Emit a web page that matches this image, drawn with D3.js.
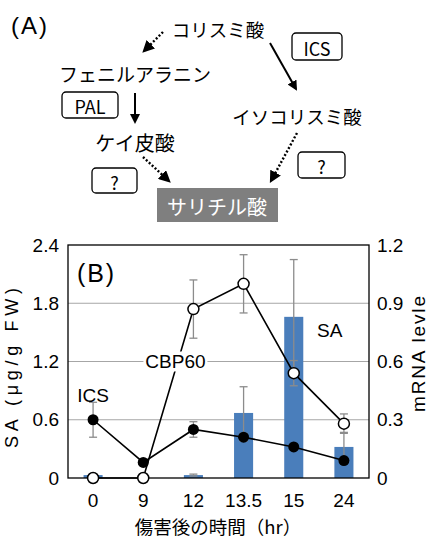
<!DOCTYPE html>
<html>
<head>
<meta charset="utf-8">
<script src="https://cdn.jsdelivr.net/npm/d3@7"></script>
<style>
  body { margin: 0; background: #fff; }
  svg { display: block; }
</style>
</head>
<body>
<div id="chart"></div>
<script>
// データ
const hours = ["0", "9", "12", "13.5", "15", "24"];
const saValues = [0.03, 0, 0.03, 0.67, 1.66, 0.32];      // SA (μg/g FW)
const saErrors = [0.01, 0, 0.01, 0.27, 0.59, 0.15];
const icsValues = [0.30, 0.08, 0.25, 0.21, 0.16, 0.09];   // mRNA
const icsErrors = [0.09, 0, 0.04, 0.02, 0, 0];
const cbpValues = [0, 0, 0.87, 1.0, 0.54, 0.28];          // mRNA
const cbpErrors = [0, 0, 0.15, 0.15, 0.065, 0.05];
const leftTicks = [0, 0.6, 1.2, 1.8, 2.4];
const rightTicks = [0, 0.3, 0.6, 0.9, 1.2];

const W = 429, H = 539;
const jp = "'Noto Sans CJK JP', sans-serif";
const latin = "'Liberation Sans', Arial, sans-serif";

const svg = d3.select("#chart").append("svg")
    .attr("width", W)
    .attr("height", H);

svg.append("defs").append("marker")
    .attr("id", "arrow")
    .attr("viewBox", "0 0 10 10")
    .attr("refX", 8).attr("refY", 5)
    .attr("markerWidth", 5).attr("markerHeight", 5)
    .attr("orient", "auto")
    .append("path")
    .attr("d", "M0,0 L10,5 L0,10 Z")
    .attr("fill", "#000");

// --- (A) 経路図 ---
const diagram = svg.append("g").attr("class", "diagram");

diagram.append("text")
    .attr("x", 11).attr("y", 25)
    .attr("dominant-baseline", "central")
    .attr("font-family", latin)
    .attr("font-size", 24)
    .attr("textLength", 36)
    .attr("lengthAdjust", "spacing")
    .text("(A)");

const labels = [
    {t: "コリスミ酸", x: 218, y: 29, s: 18.5},
    {t: "フェニルアラニン", x: 135, y: 73, s: 19},
    {t: "イソコリスミ酸", x: 297, y: 116, s: 18.5},
    {t: "ケイ皮酸", x: 135, y: 142, s: 20}
];
diagram.selectAll("text.lbl")
    .data(labels)
    .join("text")
    .attr("class", "lbl")
    .attr("x", d => d.x).attr("y", d => d.y)
    .attr("text-anchor", "middle")
    .attr("dominant-baseline", "central")
    .attr("font-family", jp)
    .attr("font-size", d => d.s)
    .text(d => d.t);

const boxes = [
    {t: "ICS", x: 292, y: 33, w: 50, h: 27},
    {t: "PAL", x: 62, y: 92, w: 56, h: 26},
    {t: "?", x: 92, y: 168, w: 45, h: 25},
    {t: "?", x: 298, y: 152, w: 47, h: 26}
];
const boxG = diagram.selectAll("g.box")
    .data(boxes)
    .join("g")
    .attr("class", "box");
boxG.append("rect")
    .attr("x", d => d.x).attr("y", d => d.y)
    .attr("width", d => d.w).attr("height", d => d.h)
    .attr("rx", 4)
    .attr("fill", "#fff")
    .attr("stroke", "#000")
    .attr("stroke-width", 1.3);
boxG.append("text")
    .attr("x", d => d.x + d.w / 2)
    .attr("y", d => d.y + d.h / 2 + 1)
    .attr("text-anchor", "middle")
    .attr("dominant-baseline", "central")
    .attr("font-family", jp)
    .attr("font-size", 18)
    .text(d => d.t);

const arrows = [
    {x1: 163, y1: 32, x2: 144, y2: 51, dash: true},
    {x1: 270, y1: 43, x2: 296, y2: 89, dash: false},
    {x1: 135, y1: 93, x2: 135, y2: 122, dash: false},
    {x1: 143, y1: 157, x2: 169, y2: 181, dash: true},
    {x1: 297, y1: 133, x2: 271, y2: 181, dash: true}
];
diagram.selectAll("line.arrow")
    .data(arrows)
    .join("line")
    .attr("class", "arrow")
    .attr("x1", d => d.x1).attr("y1", d => d.y1)
    .attr("x2", d => d.x2).attr("y2", d => d.y2)
    .attr("stroke", "#000")
    .attr("stroke-width", d => d.dash ? 2.4 : 2)
    .attr("stroke-dasharray", d => d.dash ? "2,2" : null)
    .attr("marker-end", "url(#arrow)");

diagram.append("rect")
    .attr("x", 157).attr("y", 188)
    .attr("width", 121).attr("height", 34)
    .attr("fill", "#7f7f7f");
diagram.append("text")
    .attr("x", 217).attr("y", 206)
    .attr("text-anchor", "middle")
    .attr("dominant-baseline", "central")
    .attr("font-family", jp)
    .attr("font-size", 20)
    .attr("fill", "#fff")
    .text("サリチル酸");

// --- (B) グラフ ---
const margin = {top: 245, left: 68, right: 60, bottom: 61};
const width = W - margin.left - margin.right;
const height = H - margin.top - margin.bottom;
const g = svg.append("g")
    .attr("transform", "translate(" + margin.left + "," + margin.top + ")");

const x = d3.scaleBand().domain(hours).range([0, width]).paddingInner(0.62).paddingOuter(0.31);
const yL = d3.scaleLinear().domain([0, 2.4]).range([height, 0]);
const yR = d3.scaleLinear().domain([0, 1.2]).range([height, 0]);
const cx = d => x(d) + x.bandwidth() / 2;

// グリッド線
g.selectAll("line.grid")
    .data(leftTicks.slice(1, -1))
    .join("line")
    .attr("class", "grid")
    .attr("x1", 0).attr("x2", width)
    .attr("y1", d => yL(d)).attr("y2", d => yL(d))
    .attr("stroke", "#a6a6a6")
    .attr("stroke-width", 1);

// 棒グラフ (SA)
g.selectAll("rect.bar")
    .data(hours)
    .join("rect")
    .attr("class", "bar")
    .attr("x", d => x(d))
    .attr("width", x.bandwidth())
    .attr("y", (d, i) => yL(saValues[i]))
    .attr("height", (d, i) => height - yL(saValues[i]))
    .attr("fill", "#4a7ebb");

// 誤差範囲
function errorBars(cls, vals, errs, scale) {
    const eg = g.selectAll("g." + cls)
        .data(hours.map((h, i) => ({h, v: vals[i], e: errs[i]})).filter(d => d.e > 0.005))
        .join("g")
        .attr("class", cls)
        .attr("stroke", "#8c8c8c")
        .attr("stroke-width", 1.3);
    eg.append("line")
        .attr("x1", d => cx(d.h)).attr("x2", d => cx(d.h))
        .attr("y1", d => scale(d.v + d.e)).attr("y2", d => scale(Math.max(0, d.v - d.e)));
    eg.append("line")
        .attr("x1", d => cx(d.h) - 4).attr("x2", d => cx(d.h) + 4)
        .attr("y1", d => scale(d.v + d.e)).attr("y2", d => scale(d.v + d.e));
    eg.append("line")
        .attr("x1", d => cx(d.h) - 4).attr("x2", d => cx(d.h) + 4)
        .attr("y1", d => scale(Math.max(0, d.v - d.e))).attr("y2", d => scale(Math.max(0, d.v - d.e)));
}
errorBars("errSA", saValues, saErrors, yL);
errorBars("errICS", icsValues, icsErrors, yR);
errorBars("errCBP", cbpValues, cbpErrors, yR);

// 折れ線
const line = d3.line().x((d, i) => cx(hours[i])).y(d => yR(d));
[cbpValues, icsValues].forEach(vals => {
    g.append("path")
        .datum(vals)
        .attr("d", line)
        .attr("fill", "none")
        .attr("stroke", "#000")
        .attr("stroke-width", 1.6);
});

// 枠線
g.append("rect")
    .attr("x", 0).attr("y", 0)
    .attr("width", width).attr("height", height)
    .attr("fill", "none")
    .attr("stroke", "#000")
    .attr("stroke-width", 1.3);

// マーカー
g.selectAll("circle.ics")
    .data(icsValues)
    .join("circle")
    .attr("class", "ics")
    .attr("cx", (d, i) => cx(hours[i]))
    .attr("cy", d => yR(d))
    .attr("r", 5.5)
    .attr("fill", "#000");
g.selectAll("circle.cbp")
    .data(cbpValues)
    .join("circle")
    .attr("class", "cbp")
    .attr("cx", (d, i) => cx(hours[i]))
    .attr("cy", d => yR(d))
    .attr("r", 5.5)
    .attr("fill", "#fff")
    .attr("stroke", "#000")
    .attr("stroke-width", 1.5);

// 軸
const fmt = d => d === 0 ? "0" : d3.format(".1f")(d);
const axisL = g.append("g")
    .call(d3.axisLeft(yL).tickValues(leftTicks).tickSize(0).tickPadding(9).tickFormat(fmt));
const axisR = g.append("g")
    .attr("transform", "translate(" + width + ",0)")
    .call(d3.axisRight(yR).tickValues(rightTicks).tickSize(0).tickPadding(8).tickFormat(fmt));
const axisB = g.append("g")
    .attr("transform", "translate(0," + height + ")")
    .call(d3.axisBottom(x).tickSize(0).tickPadding(16));
[axisL, axisR, axisB].forEach(a => {
    a.select(".domain").remove();
    a.selectAll("text")
        .attr("font-family", latin)
        .attr("font-size", 19)
        .attr("fill", "#000");
});

// 系列ラベル
const seriesLabels = [
    {t: "ICS", h: "0", dx: 0, v: 0.85, bg: false},
    {t: "CBP60", h: "12", dx: -18, v: 1.2, bg: true},
    {t: "SA", h: "15", dx: 36, v: 1.52, bg: false}
];
seriesLabels.forEach(d => {
    const tx = cx(d.h) + d.dx;
    if (d.bg) {
        g.append("rect")
            .attr("x", tx - 32).attr("y", yL(d.v) - 10)
            .attr("width", 64).attr("height", 20)
            .attr("fill", "#fff");
    }
    g.append("text")
        .attr("x", tx).attr("y", yL(d.v))
        .attr("text-anchor", "middle")
        .attr("dominant-baseline", "central")
        .attr("font-family", latin)
        .attr("font-size", 19)
        .text(d.t);
});

g.append("text")
    .attr("x", 9).attr("y", 28)
    .attr("dominant-baseline", "central")
    .attr("font-family", latin)
    .attr("font-size", 25)
    .attr("textLength", 37)
    .attr("lengthAdjust", "spacing")
    .text("(B)");

// 軸タイトル
svg.append("text")
    .attr("transform", "translate(12,368) rotate(-90)")
    .attr("text-anchor", "middle")
    .attr("dominant-baseline", "central")
    .attr("font-family", latin)
    .attr("font-size", 18)
    .attr("textLength", 160)
    .attr("lengthAdjust", "spacing")
    .text("SA (μg/g FW)");
svg.append("text")
    .attr("transform", "translate(418,354) rotate(-90)")
    .attr("text-anchor", "middle")
    .attr("dominant-baseline", "central")
    .attr("font-family", latin)
    .attr("font-size", 19)
    .attr("textLength", 116)
    .attr("lengthAdjust", "spacing")
    .text("mRNA levle");
svg.append("text")
    .attr("x", 218).attr("y", 525.5)
    .attr("text-anchor", "middle")
    .attr("dominant-baseline", "central")
    .attr("font-family", jp)
    .attr("font-size", 18.5)
    .text("傷害後の時間（hr）");
</script>
</body>
</html>
